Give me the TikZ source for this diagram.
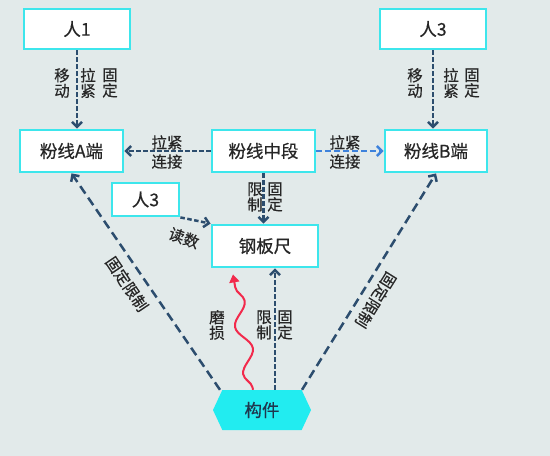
\documentclass[tikz,border=0pt]{standalone}
\usepackage{fontspec}
\setmainfont{Noto Sans CJK SC}[FakeBold=0.5]
\usepackage{tikz}
\usetikzlibrary{arrows.meta, positioning, shapes.symbols, decorations.pathmorphing}

\definecolor{bgcol}{HTML}{E2EAEA}
\definecolor{boxline}{HTML}{3DE6EC}
\definecolor{linkdark}{HTML}{2C4D6E}
\definecolor{linklight}{HTML}{3D82DC}
\definecolor{partfill}{HTML}{22ECF0}
\definecolor{wearred}{HTML}{F22A4C}
\definecolor{labeltext}{HTML}{262626}

\tikzset{
  box/.style={draw=boxline, line width=2.8pt, fill=white, rectangle, text centered, text=labeltext, font=\fontsize{17.5}{19}\selectfont},
  lbl/.style={font=\fontsize{15.5}{15.5}\selectfont, text=labeltext, align=center, inner sep=0pt},
  lblwide/.style={font=\fontsize{15.5}{19}\selectfont, text=labeltext, align=center, inner sep=0pt},
  tip/.style={-{Straight Barb[length=5pt,width=10pt]}},
  link/.style={draw=linkdark, line width=2.5pt, dash pattern=on 4.5pt off 2.5pt, tip},
  longlink/.style={draw=linkdark, line width=2.5pt, dash pattern=on 9pt off 5pt, tip},
  lightlink/.style={draw=linklight, line width=2.5pt, dash pattern=on 6pt off 3pt, tip},
  wear/.style={draw=wearred, line width=2pt, decorate, decoration={snake, amplitude=7pt, segment length=48pt, pre length=2pt, post length=8pt}, -{Triangle[length=8pt,width=10pt]}}
}

\begin{document}
\begin{tikzpicture}[x=1pt, y=-1pt]

    % Background and margins
    \fill[bgcol] (0,0) rectangle (550,456);
    \useasboundingbox (0,0) rectangle (550,456);

    % Nodes for people, line ends and ruler
    \node (worker1) [box, minimum width=106pt, minimum height=40pt] at (77,29) {人1};
    \node (worker3) [box, minimum width=106pt, minimum height=40pt] at (433,29) {人3};
    \node (pinkA) [box, minimum width=103pt, minimum height=42pt] at (71.5,151) {粉线A端};
    \node (pinkMid) [box, minimum width=103pt, minimum height=42pt] at (263.5,151) {粉线中段};
    \node (pinkB) [box, minimum width=102pt, minimum height=42pt] at (436,151) {粉线B端};
    \node (reader) [box, minimum width=67pt, minimum height=33pt] at (145.5,199.5) {人3};
    \node (ruler) [box, minimum width=106pt, minimum height=42pt] at (265,246) {钢板尺};

    % The part at the bottom
    \node (member) [signal, signal to=east and west, signal pointer angle=130, fill=partfill, minimum width=98pt, minimum height=40pt, inner sep=2pt, text=linkdark!70!black, font=\fontsize{17.5}{19}\selectfont] at (262,410) {构件};

    % Arrows from people to line ends
    \draw[link] (worker1.south) -- (worker1.south |- pinkA.north);
    \draw[link] (worker3.south) -- (worker3.south |- pinkB.north);
    \node[lbl] at (62,83) {移\\动};
    \node[lbl] at (88,83) {拉\\紧};
    \node[lbl] at (110,83) {固\\定};
    \node[lbl] at (415,83) {移\\动};
    \node[lbl] at (451,83) {拉\\紧};
    \node[lbl] at (472,83) {固\\定};

    % Arrows from the middle part of the line
    \draw[link] (pinkMid.west) -- (pinkA.east);
    \draw[lightlink] (pinkMid.east) -- (pinkB.west);
    \draw[link] (pinkMid.south) -- (pinkMid.south |- ruler.north);
    \node[lblwide] at (167,152) {拉紧\\连接};
    \node[lblwide] at (345,152) {拉紧\\连接};
    \node[lbl] at (255,197) {限\\制};
    \node[lbl] at (275,197) {固\\定};

    % Reading the ruler
    \draw[link] (reader.south east) -- (ruler.north west);
    \node[lbl, rotate=-20] at (184,238) {读数};

    % Arrows from the part
    \coordinate (leftBase) at ([xshift=-42pt]member.north);
    \coordinate (rightBase) at ([xshift=40pt]member.north);
    \coordinate (fixBase) at ([xshift=13pt]member.north);
    \coordinate (wearBase) at ([xshift=-9pt]member.north);
    \coordinate (wearEnd) at ([xshift=-32pt, yshift=-6pt]ruler.south);
    \draw[longlink] (leftBase) -- (pinkA.south);
    \draw[longlink] (rightBase) -- (pinkB.south);
    \draw[link] (fixBase) -- (fixBase |- ruler.south);
    \draw[wear] (wearBase) -- (wearEnd);
    \node[lbl, rotate=-56] at (127,284) {固定限制};
    \node[lbl, rotate=-122] at (376,300) {固定限制};
    \node[lbl] at (217,325) {磨\\损};
    \node[lbl] at (264,325) {限\\制};
    \node[lbl] at (285,325) {固\\定};

\end{tikzpicture}
\end{document}
